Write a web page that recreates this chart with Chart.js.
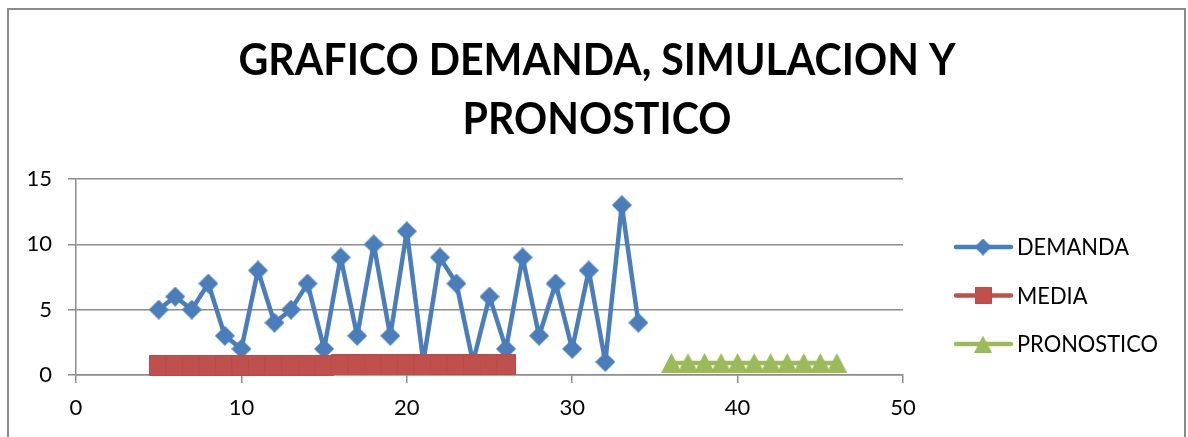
<!DOCTYPE html>
<html>
<head>
<meta charset="utf-8">
<script src="https://cdn.jsdelivr.net/npm/chart.js@4.4.1/dist/chart.umd.min.js"></script>
<style>
  html, body { margin: 0; padding: 0; background: #ffffff; }
  canvas { display: block; }
</style>
</head>
<body>
<canvas id="chart" width="1188" height="437"></canvas>
<script>
// Title and series names
const titleLines = ['GRAFICO DEMANDA, SIMULACION Y', 'PRONOSTICO'];
const seriesNames = ['DEMANDA', 'MEDIA', 'PRONOSTICO'];

// Demand per period
const demandaPeriods = [5, 6, 7, 8, 9, 10, 11, 12, 13, 14, 15, 16, 17, 18, 19, 20, 21, 22, 23, 24, 25, 26, 27, 28, 29, 30, 31, 32, 33, 34];
const demanda = [5, 6, 5, 7, 3, 2, 8, 4, 5, 7, 2, 9, 3, 10, 3, 11, 1, 9, 7, 1, 6, 2, 9, 3, 7, 2, 8, 1, 13, 4];

// Mean series
const mediaPeriods = [5, 6, 7, 8, 9, 10, 11, 12, 13, 14, 15, 16, 17, 18, 19, 20, 21, 22, 23, 24, 25, 26];
const media = [0.72, 0.72, 0.73, 0.73, 0.74, 0.74, 0.75, 0.75, 0.75, 0.76, 0.76, 0.77, 0.77, 0.77, 0.78, 0.78, 0.78, 0.79, 0.79, 0.79, 0.80, 0.80];

// Forecast series
const pronosticoPeriods = [36, 37, 38, 39, 40, 41, 42, 43, 44, 45, 46];
const pronostico = [0.92, 0.92, 0.92, 0.92, 0.92, 0.92, 0.92, 0.92, 0.92, 0.92, 0.92];

// Axis ticks
const xTicks = [0, 10, 20, 30, 40, 50];
const yTicks = [0, 5, 10, 15];

const BLUE = '#4A7EBB';
const RED = '#C0504D';
const GREEN = '#9BBB59';
const GRID = '#8C8C8C';
const FONT = 'Lato, "DejaVu Sans", sans-serif';

// Marker images, centred on each data point
function makeMarker(kind, w, h) {
  const c = document.createElement('canvas');
  c.width = w; c.height = h;
  const g = c.getContext('2d');
  g.beginPath();
  if (kind === 'diamond') {
    g.moveTo(w / 2, 0); g.lineTo(w, h / 2); g.lineTo(w / 2, h); g.lineTo(0, h / 2);
    g.closePath();
    g.fillStyle = BLUE; g.fill();
  } else if (kind === 'square') {
    g.rect(0.5, 0.5, w - 1, h - 1);
    g.fillStyle = RED; g.fill();
    g.lineWidth = 1; g.strokeStyle = '#BC4A47'; g.stroke();
  } else {
    g.moveTo(w / 2, 0); g.lineTo(w, h); g.lineTo(0, h);
    g.closePath();
    g.fillStyle = GREEN; g.fill();
  }
  return c;
}
const diamondImg = makeMarker('diamond', 20, 20);
const squareImg = makeMarker('square', 20, 21);
const triangleImg = makeMarker('triangle', 21, 20);

const toPoints = (xs, ys) => xs.map((x, i) => ({ x: x, y: ys[i] }));

// Text drawn slightly condensed, like the narrow sans used for the labels
function condensedText(ctx, text, x, y, sx) {
  ctx.save();
  ctx.translate(x, y);
  ctx.scale(sx, 1);
  ctx.fillText(text, 0, 0);
  ctx.restore();
}

// Chart frame, title and legend
const framePlugin = {
  id: 'frame',
  beforeDraw(chart) {
    const ctx = chart.ctx;
    ctx.save();
    ctx.fillStyle = '#ffffff';
    ctx.fillRect(0, 0, chart.width, chart.height);
    ctx.strokeStyle = '#8A8A8A';
    ctx.lineWidth = 2;
    ctx.strokeRect(8, 9, 1177, 600);
    ctx.restore();
  },
  afterDraw(chart) {
    const ctx = chart.ctx;
    const area = chart.chartArea;
    ctx.save();
    // title
    ctx.fillStyle = '#000000';
    ctx.font = 'bold 44px ' + FONT;
    ctx.textAlign = 'center';
    ctx.textBaseline = 'alphabetic';
    condensedText(ctx, titleLines[0], 597, 75, 0.935);
    condensedText(ctx, titleLines[1], 597, 134, 0.935);
    // legend
    const markers = [diamondImg, squareImg, triangleImg];
    const lx0 = area.right + 53, lx1 = area.right + 108, mx = area.right + 80;
    chart.data.datasets.forEach((ds, i) => {
      const y = 247 + i * 48.5;
      ctx.beginPath();
      ctx.moveTo(lx0, y); ctx.lineTo(lx1, y);
      ctx.strokeStyle = ds.borderColor;
      ctx.lineWidth = 4.5;
      ctx.lineCap = 'round';
      ctx.stroke();
      const m = markers[i];
      const s = 0.85;
      ctx.drawImage(m, mx - m.width * s / 2, y - m.height * s / 2, m.width * s, m.height * s);
      ctx.font = '23px ' + FONT;
      ctx.textAlign = 'left';
      ctx.textBaseline = 'middle';
      ctx.fillStyle = '#000000';
      condensedText(ctx, ds.label, area.right + 114, y + 1, 0.95);
    });
    ctx.restore();
  }
};

new Chart(document.getElementById('chart'), {
  type: 'line',
  data: {
    datasets: [
      {
        label: seriesNames[0],
        data: toPoints(demandaPeriods, demanda),
        borderColor: BLUE,
        backgroundColor: BLUE,
        borderWidth: 4.5,
        borderJoinStyle: 'round',
        pointStyle: diamondImg,
        tension: 0,
        clip: false,
        order: 3
      },
      {
        label: seriesNames[1],
        data: toPoints(mediaPeriods, media),
        borderColor: RED,
        backgroundColor: RED,
        borderWidth: 4.5,
        borderJoinStyle: 'round',
        pointStyle: squareImg,
        tension: 0,
        clip: false,
        order: 2
      },
      {
        label: seriesNames[2],
        data: toPoints(pronosticoPeriods, pronostico),
        borderColor: GREEN,
        backgroundColor: GREEN,
        borderWidth: 4.5,
        borderJoinStyle: 'round',
        pointStyle: triangleImg,
        tension: 0,
        clip: false,
        order: 1
      }
    ]
  },
  options: {
    responsive: false,
    animation: false,
    devicePixelRatio: 1,
    layout: { padding: { left: 0, right: 285, top: 179, bottom: 0 } },
    plugins: {
      legend: { display: false },
      title: { display: false },
      tooltip: { enabled: false }
    },
    scales: {
      x: {
        type: 'linear',
        min: xTicks[0],
        max: xTicks[xTicks.length - 1],
        afterFit(scale) { scale.height = 62; },
        ticks: {
          stepSize: xTicks[1] - xTicks[0],
          color: '#000000',
          font: { family: FONT, size: 22 },
          padding: 12,
          maxRotation: 0
        },
        grid: {
          drawOnChartArea: false,
          drawTicks: true,
          tickLength: 8,
          color: GRID,
          lineWidth: 1.5
        },
        border: { display: true, color: GRID, width: 1.5 }
      },
      y: {
        type: 'linear',
        min: yTicks[0],
        max: yTicks[yTicks.length - 1],
        afterFit(scale) { scale.width = 76; },
        ticks: {
          stepSize: yTicks[1] - yTicks[0],
          color: '#000000',
          font: { family: FONT, size: 22 },
          padding: 16
        },
        grid: {
          drawOnChartArea: true,
          drawTicks: true,
          tickLength: 8,
          color: GRID,
          lineWidth: 1.5
        },
        border: { display: true, color: GRID, width: 1.5 }
      }
    }
  },
  plugins: [framePlugin]
});
</script>
</body>
</html>
